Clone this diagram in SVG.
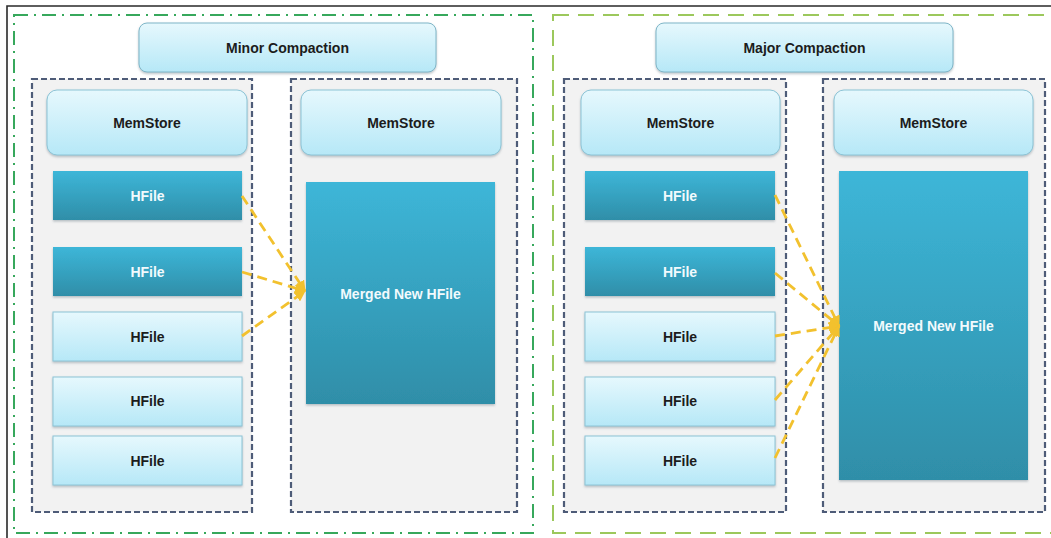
<svg xmlns="http://www.w3.org/2000/svg" width="1051" height="538" viewBox="0 0 1051 538">
  <defs>
    <linearGradient id="gLight" x1="0" y1="0" x2="0" y2="1">
      <stop offset="0" stop-color="#e6f8fd"/>
      <stop offset="1" stop-color="#b6e8f7"/>
    </linearGradient>
    <linearGradient id="gDark" x1="0" y1="0" x2="0" y2="1">
      <stop offset="0" stop-color="#3db6d8"/>
      <stop offset="1" stop-color="#2f8ea8"/>
    </linearGradient>
    <filter id="shadow" x="-5%" y="-5%" width="110%" height="115%">
      <feDropShadow dx="0" dy="1.5" stdDeviation="1.2" flood-color="#6a7a86" flood-opacity="0.45"/>
    </filter>
    <marker id="arrow" viewBox="0 0 10 10" refX="9" refY="5" markerWidth="4" markerHeight="4" orient="auto" markerUnits="strokeWidth">
      <path d="M0,0 L10,5 L0,10 z" fill="#f2c12e"/>
    </marker>
    <style>
      .frame { stroke: #2a2a2a; stroke-width: 1.6; fill: none; }
      .minor { fill: #ffffff; stroke: #37a85c; stroke-width: 2; stroke-dasharray: 14 6 2 6; }
      .major { fill: #ffffff; stroke: #9cc85c; stroke-width: 2; stroke-dasharray: 16 9; }
      .region { fill: #f2f2f2; stroke: #4e5c78; stroke-width: 2.2; stroke-dasharray: 6 3; }
      .title { fill: url(#gLight); stroke: #7fb6c8; stroke-width: 1; filter: url(#shadow); }
      .mem { fill: url(#gLight); stroke: #8cc4d6; stroke-width: 1; filter: url(#shadow); }
      .hlight { fill: url(#gLight); stroke: #8cc4d6; stroke-width: 1; filter: url(#shadow); }
      .hdark { fill: url(#gDark); stroke: none; filter: url(#shadow); }
      .merged { fill: url(#gDark); stroke: none; filter: url(#shadow); }
      text { font-family: "Liberation Sans", Arial, sans-serif; font-weight: bold; font-size: 14px; text-anchor: middle; dominant-baseline: central; }
      .dk { fill: #1c1c1c; }
      .wt { fill: #f2fafd; }
      .link { stroke: #f2c12e; stroke-width: 2.8; stroke-dasharray: 10 6; fill: none; marker-end: url(#arrow); }
    </style>
  </defs>

  <rect width="1051" height="538" fill="#ffffff"/>

  <!-- page frame -->
  <path class="frame" d="M1051,6 H7 V538"/>

  <!-- section outlines -->
  <rect class="minor" x="14" y="15" width="519" height="518"/>
  <rect class="major" x="553" y="15" width="510" height="518"/>

  <!-- Minor compaction -->
  <g id="minor-title">
    <rect class="title" x="139" y="23" width="297" height="49" rx="8"/>
    <text class="dk" x="287.5" y="47.5">Minor Compaction</text>
  </g>

  <g id="minor-before">
    <rect class="region" x="32" y="79" width="220" height="433"/>
    <g id="minor-before-memstore">
      <rect class="mem" x="47" y="90" width="200" height="65" rx="10"/>
      <text class="dk" x="147" y="123">MemStore</text>
    </g>
    <g id="minor-hfile-1">
      <rect class="hdark" x="53" y="171" width="189" height="49"/>
      <text class="wt" x="147.5" y="196">HFile</text>
    </g>
    <g id="minor-hfile-2">
      <rect class="hdark" x="53" y="247" width="189" height="49"/>
      <text class="wt" x="147.5" y="272">HFile</text>
    </g>
    <g id="minor-hfile-3">
      <rect class="hlight" x="53" y="312" width="189" height="49"/>
      <text class="dk" x="147.5" y="337">HFile</text>
    </g>
    <g id="minor-hfile-4">
      <rect class="hlight" x="53" y="377" width="189" height="49"/>
      <text class="dk" x="147.5" y="401">HFile</text>
    </g>
    <g id="minor-hfile-5">
      <rect class="hlight" x="53" y="436" width="189" height="49"/>
      <text class="dk" x="147.5" y="461">HFile</text>
    </g>
  </g>

  <g id="minor-after">
    <rect class="region" x="291" y="79" width="226" height="433"/>
    <g id="minor-after-memstore">
      <rect class="mem" x="301" y="90" width="200" height="65" rx="10"/>
      <text class="dk" x="401" y="123">MemStore</text>
    </g>
    <g id="minor-merged">
      <rect class="merged" x="306" y="182" width="189" height="222"/>
      <text class="wt" x="400.5" y="294">Merged New HFile</text>
    </g>
  </g>

  <!-- Major compaction -->
  <g id="major-title">
    <rect class="title" x="656" y="23" width="297" height="49" rx="8"/>
    <text class="dk" x="804.5" y="47.5">Major Compaction</text>
  </g>

  <g id="major-before">
    <rect class="region" x="564" y="79" width="222" height="433"/>
    <g id="major-before-memstore">
      <rect class="mem" x="581" y="90" width="199" height="65" rx="10"/>
      <text class="dk" x="680.5" y="123">MemStore</text>
    </g>
    <g id="major-hfile-1">
      <rect class="hdark" x="585" y="171" width="190" height="49"/>
      <text class="wt" x="680" y="196">HFile</text>
    </g>
    <g id="major-hfile-2">
      <rect class="hdark" x="585" y="247" width="190" height="49"/>
      <text class="wt" x="680" y="272">HFile</text>
    </g>
    <g id="major-hfile-3">
      <rect class="hlight" x="585" y="312" width="190" height="49"/>
      <text class="dk" x="680" y="337">HFile</text>
    </g>
    <g id="major-hfile-4">
      <rect class="hlight" x="585" y="377" width="190" height="49"/>
      <text class="dk" x="680" y="401">HFile</text>
    </g>
    <g id="major-hfile-5">
      <rect class="hlight" x="585" y="436" width="190" height="49"/>
      <text class="dk" x="680" y="461">HFile</text>
    </g>
  </g>

  <g id="major-after">
    <rect class="region" x="823" y="79" width="222" height="433"/>
    <g id="major-after-memstore">
      <rect class="mem" x="834" y="90" width="199" height="65" rx="10"/>
      <text class="dk" x="933.5" y="123">MemStore</text>
    </g>
    <g id="major-merged">
      <rect class="merged" x="839" y="171" width="189" height="309"/>
      <text class="wt" x="933.5" y="326">Merged New HFile</text>
    </g>
  </g>

  <!-- merge connectors -->
  <g id="connectors">
    <path class="link" d="M242,196 L305,291"/>
    <path class="link" d="M242,272 L305,291"/>
    <path class="link" d="M242,336 L305,291"/>
    <path class="link" d="M775,195 L839,326"/>
    <path class="link" d="M775,273 L839,326"/>
    <path class="link" d="M775,336 L839,326"/>
    <path class="link" d="M775,400 L839,326"/>
    <path class="link" d="M775,458 L839,326"/>
  </g>
</svg>
